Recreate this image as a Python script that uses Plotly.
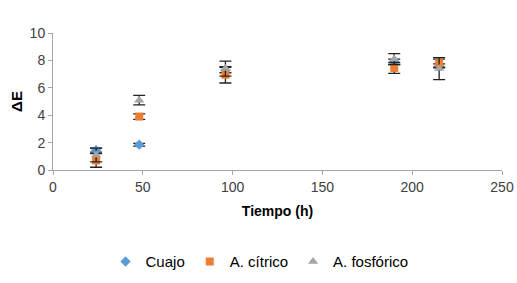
import plotly.graph_objects as go

tiempo = [24, 48, 96, 190, 215]
cuajo = [1.45, 1.85, 7.3, 7.9, 7.6]
cuajo_err = [0.15, 0.1, 0.2, 0.2, 0.15]
citrico = [0.7, 3.9, 6.95, 7.45, 7.8]
citrico_err = [0.5, 0.2, 0.6, 0.4, 0.3]
fosforico = [1.1, 5.1, 7.4, 8.1, 7.4]
fosforico_err = [0.5, 0.35, 0.55, 0.4, 0.8]

err_style = dict(type="data", color="#222222", thickness=1.3, width=6)

fig = go.Figure()
fig.add_trace(go.Scatter(
    x=tiempo, y=cuajo, name="Cuajo", mode="markers",
    marker=dict(symbol="diamond", size=8, color="#5B9BD5"),
    error_y=dict(array=cuajo_err, **err_style)))
fig.add_trace(go.Scatter(
    x=tiempo, y=citrico, name="A. cítrico", mode="markers",
    marker=dict(symbol="square", size=8, color="#ED7D31"),
    error_y=dict(array=citrico_err, **err_style)))
fig.add_trace(go.Scatter(
    x=tiempo, y=fosforico, name="A. fosfórico", mode="markers",
    marker=dict(symbol="triangle-up", size=9, color="#A5A5A5"),
    error_y=dict(array=fosforico_err, **err_style)))

font = "Liberation Sans, Arial, sans-serif"
fig.update_layout(
    width=517, height=283,
    margin=dict(l=53, r=15, t=33, b=113),
    paper_bgcolor="white", plot_bgcolor="white",
    font=dict(family=font, size=14, color="#404040"),
    showlegend=True,
    legend=dict(orientation="h", x=0.46, xanchor="center",
                yref="container", y=0.075, yanchor="middle",
                font=dict(size=15, color="#000000"), itemwidth=30,
                tracegroupgap=0),
    xaxis=dict(range=[0, 250], dtick=50, showgrid=False, zeroline=False,
               showline=True, linecolor="#A6A6A6", linewidth=1,
               ticks="outside", tickcolor="#A6A6A6", ticklen=4,
               tickfont=dict(size=14, color="#404040"), automargin=False,
               title=dict(text="<b>Tiempo (h)</b>", font=dict(size=14, color="#000000"), standoff=12)),
    yaxis=dict(range=[0, 10], dtick=2, showgrid=False, zeroline=False,
               showline=True, linecolor="#A6A6A6", linewidth=1,
               ticks="outside", tickcolor="#A6A6A6", ticklen=4,
               tickfont=dict(size=14, color="#404040"), automargin=False,
               title=dict(text="<b>ΔE</b>", font=dict(size=15, color="#000000"), standoff=3)),
)

fig.write_html("out.html", config={"displayModeBar": False},
               post_script="document.body.style.margin='0';")
